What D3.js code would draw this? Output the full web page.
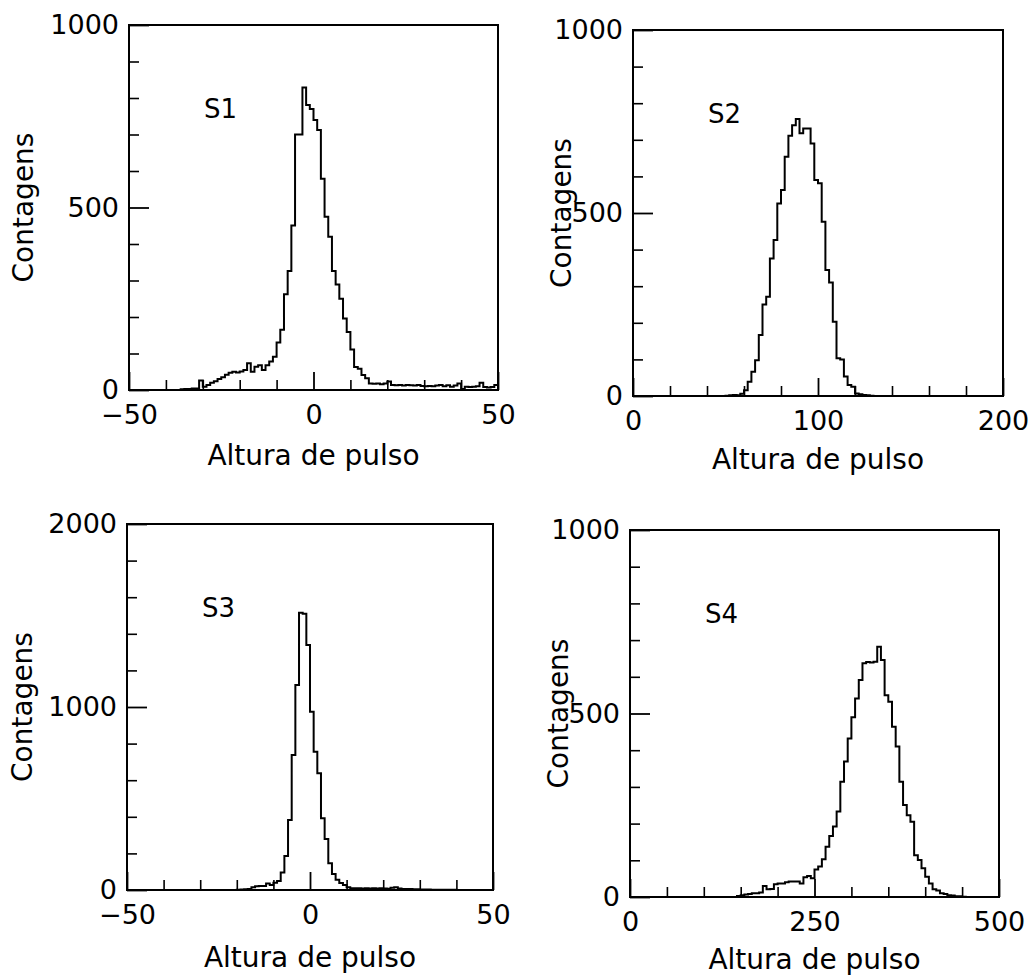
<!DOCTYPE html>
<html><head><meta charset="utf-8">
<script src="https://cdn.jsdelivr.net/npm/d3@7"></script>
<style>
body{margin:0;background:#fff}
svg text{font-family:"DejaVu Sans",sans-serif;fill:#000}
</style>
</head><body>
<svg id="chart" width="1033" height="977"></svg>
<script>
// ---------------- DATA ----------------
// S1: bins of width 1 starting at -50
const s1BinStart = -50, s1BinWidth = 1;
const s1Counts = [0,0,0,0,0,0,0,0,0,0,0,0,0,0,
  2,3,3,4,4,
  26,9,14,20,24,30,35,42,47,50,48,51,55,73,50,64,68,55,68,78,91,130,165,262,326,451,700,700,829,
  781,770,740,712,579,475,420,326,289,250,196,159,111,63,58,41,32,18,17,18,16,18,23,14,13,14,12,14,13,12,14,11,10,11,10,12,14,10,13,9,12,18,3,9,8,9,10,20,8,7,8,14];
// S2: bins of width 2 starting at 0
const s2BinStart = 0, s2BinWidth = 2;
const s2Counts = [0,0,0,0,0,0,0,0,0,0,0,0,0,0,0,0,0,0,0,0,0,0,0,0,0,
  1,2,3,2,6,16,39,66,98,167,250,271,376,426,526,563,654,711,740,757,718,731,731,690,590,581,476,344,310,203,103,100,53,30,25,7,5,3,2,1,
  0,0,0,0,0,0,0,0,0,0,0,0,0,0,0,0,0,0,0,0,0,0,0,0,0,0,0,0,0,0,0,0,0,0,0];
// S3: bins of width 1 starting at -50
const s3BinStart = -50, s3BinWidth = 1;
const s3Counts = [0,0,0,0,0,0,0,0,0,0,0,0,0,0,0,0,0,0,0,0,0,0,0,0,0,0,0,0,0,0,
  2,3,4,5,15,20,22,22,36,28,40,49,95,186,383,738,1120,1515,1510,1339,974,756,638,392,279,146,87,56,38,27,15,10,9,9,8,9,8,9,8,9,8,7,12,15,8,6,5,5,4,4,3,3,3,2,2,2,2,1,1,1,
  0,0,0,0,0,0,0,0,0,0];
// S4: bins of width 5 starting at 0
const s4BinStart = 0, s4BinWidth = 5;
const s4Counts = [0,0,0,0,0,0,0,0,0,0,0,0,0,0,0,0,0,0,0,0,0,0,0,0,0,0,0,0,0,
  3,5,7,8,10,10,12,30,21,22,35,37,37,40,42,42,42,37,54,57,51,75,83,103,137,166,192,233,314,369,432,490,541,591,637,640,639,641,682,646,550,532,464,410,314,251,223,205,114,101,78,55,37,21,18,10,8,5,4,2,2,1,
  0,0,0,0,0,0,0,0,0];

const panelLabels = ["S1","S2","S3","S4"];
const xTitle = "Altura de pulso";
const yTitle = "Contagens";

const x1Domain = [-50, 50], x1Major = [-50, 0, 50], x1MajorLabels = ["\u221250","0","50"], x1MinorStep = 10;
const x2Domain = [0, 200],  x2Major = [0, 100, 200], x2MajorLabels = ["0","100","200"], x2MinorStep = 20;
const x3Domain = [-50, 50], x3Major = [-50, 0, 50], x3MajorLabels = ["\u221250","0","50"], x3MinorStep = 10;
const x4Domain = [0, 500],  x4Major = [0, 250, 500], x4MajorLabels = ["0","250","500"], x4MinorStep = 50;
const y1Domain = [0, 1000], y1Major = [0, 500, 1000], y1MajorLabels = ["0","500","1000"], y1MinorStep = 100;
const y2Domain = [0, 1000], y2Major = [0, 500, 1000], y2MajorLabels = ["0","500","1000"], y2MinorStep = 100;
const y3Domain = [0, 2000], y3Major = [0, 1000, 2000], y3MajorLabels = ["0","1000","2000"], y3MinorStep = 200;
const y4Domain = [0, 1000], y4Major = [0, 500, 1000], y4MajorLabels = ["0","500","1000"], y4MinorStep = 100;

// ---------------- LAYOUT ----------------
const panels = [
  {label:panelLabels[0], counts:s1Counts, start:s1BinStart, width:s1BinWidth,
   xDomain:x1Domain, xMajor:x1Major, xLabels:x1MajorLabels, xMinorStep:x1MinorStep,
   yDomain:y1Domain, yMajor:y1Major, yLabels:y1MajorLabels, yMinorStep:y1MinorStep,
   box:{l:129,t:25,r:498,b:390}, yTitleX:33, xTitleY:465},
  {label:panelLabels[1], counts:s2Counts, start:s2BinStart, width:s2BinWidth,
   xDomain:x2Domain, xMajor:x2Major, xLabels:x2MajorLabels, xMinorStep:x2MinorStep,
   yDomain:y2Domain, yMajor:y2Major, yLabels:y2MajorLabels, yMinorStep:y2MinorStep,
   box:{l:633,t:30,r:1003,b:396}, yTitleX:571, xTitleY:469},
  {label:panelLabels[2], counts:s3Counts, start:s3BinStart, width:s3BinWidth,
   xDomain:x3Domain, xMajor:x3Major, xLabels:x3MajorLabels, xMinorStep:x3MinorStep,
   yDomain:y3Domain, yMajor:y3Major, yLabels:y3MajorLabels, yMinorStep:y3MinorStep,
   box:{l:127,t:524,r:493,b:890}, yTitleX:32, xTitleY:967},
  {label:panelLabels[3], counts:s4Counts, start:s4BinStart, width:s4BinWidth,
   xDomain:x4Domain, xMajor:x4Major, xLabels:x4MajorLabels, xMinorStep:x4MinorStep,
   yDomain:y4Domain, yMajor:y4Major, yLabels:y4MajorLabels, yMinorStep:y4MinorStep,
   box:{l:630,t:530,r:999,b:897}, yTitleX:568, xTitleY:969}
];

const svg = d3.select("#chart");
svg.append("rect").attr("width",1033).attr("height",977).attr("fill","#fff");

function styleAxis(g, fs){
  g.attr("font-family",null).attr("font-size",null);
  g.select(".domain").remove();
  g.selectAll(".tick line").attr("stroke","#000");
  g.selectAll(".tick text").style("font-size", fs+"px").attr("fill","#000");
}

panels.forEach(p => {
  const B = p.box;
  const x = d3.scaleLinear().domain(p.xDomain).range([B.l, B.r]);
  const y = d3.scaleLinear().domain(p.yDomain).range([B.b, B.t]);
  const g = svg.append("g");

  const xMinor = d3.range(p.xDomain[0], p.xDomain[1] + 1e-9, p.xMinorStep).filter(v => !p.xMajor.includes(v));
  const yMinor = d3.range(p.yDomain[0], p.yDomain[1] + 1e-9, p.yMinorStep).filter(v => !p.yMajor.includes(v));

  // minor ticks (pointing inward)
  g.append("g").attr("transform",`translate(0,${B.b})`)
    .call(d3.axisBottom(x).tickValues(xMinor).tickSize(-10).tickFormat(""))
    .call(a => { styleAxis(a, 27); a.selectAll("line").attr("stroke-width",1.6); });
  g.append("g").attr("transform",`translate(${B.l},0)`)
    .call(d3.axisLeft(y).tickValues(yMinor).tickSize(-10).tickFormat(""))
    .call(a => { styleAxis(a, 27); a.selectAll("line").attr("stroke-width",1.6); });

  // major ticks + labels
  g.append("g").attr("transform",`translate(0,${B.b})`)
    .call(d3.axisBottom(x).tickValues(p.xMajor).tickSize(-18).tickPadding(15)
      .tickFormat((d,i) => p.xLabels[i]))
    .call(a => { styleAxis(a, 27); a.selectAll("line").attr("stroke-width",1.8); });
  g.append("g").attr("transform",`translate(${B.l},0)`)
    .call(d3.axisLeft(y).tickValues(p.yMajor).tickSize(-20).tickPadding(10)
      .tickFormat((d,i) => p.yLabels[i]))
    .call(a => { styleAxis(a, 27); a.selectAll("line").attr("stroke-width",1.8); });

  // histogram (step line)
  const pts = p.counts.map((c,i) => [p.start + i*p.width, c]);
  pts.push([p.start + p.counts.length*p.width, p.counts[p.counts.length-1]]);
  const line = d3.line().x(d => x(d[0])).y(d => y(d[1])).curve(d3.curveStepAfter);
  g.append("path").attr("d", line(pts)).attr("fill","none")
    .attr("stroke","#000").attr("stroke-width",2).attr("stroke-linejoin","miter");

  // frame
  g.append("rect").attr("x",B.l).attr("y",B.t).attr("width",B.r-B.l).attr("height",B.b-B.t)
    .attr("fill","none").attr("stroke","#000").attr("stroke-width",2);

  // panel label
  g.append("text").attr("x",B.l+75).attr("y",B.t+93).style("font-size","26px").text(p.label);

  // axis titles
  g.append("text").attr("x",(B.l+B.r)/2).attr("y",p.xTitleY).attr("text-anchor","middle")
    .style("font-size","28px").text(xTitle);
  g.append("text").attr("transform",`translate(${p.yTitleX},${(B.t+B.b)/2}) rotate(-90)`)
    .attr("text-anchor","middle").style("font-size","28px").text(yTitle);
});
</script>
</body></html>
